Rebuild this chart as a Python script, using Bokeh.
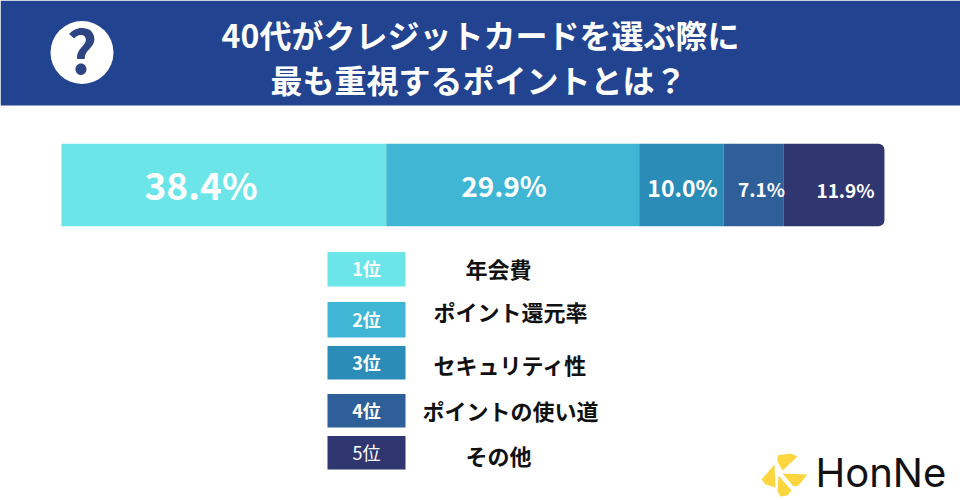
from bokeh.plotting import figure
from bokeh.models import Range1d
from bokeh.core.properties import value
from bokeh.embed import file_html
from bokeh.resources import INLINE

title_lines = ["40代がクレジットカードを選ぶ際に", "最も重視するポイントとは？"]
ranks = ["1位", "2位", "3位", "4位", "5位"]
categories = ["年会費", "ポイント還元率", "セキュリティ性", "ポイントの使い道", "その他"]
shares = [38.4, 29.9, 10.0, 7.1, 11.9]
colors = ["#6ce5e9", "#3fb6d4", "#2b8cb8", "#2f5f98", "#30366f"]
brand = "HonNe"

CJK = value("Noto Sans CJK JP")
PX_PER_PCT = 8.458
BAR_LEFT = 61

p = figure(width=960, height=500, toolbar_location=None, output_backend="svg",
           x_range=Range1d(-BAR_LEFT / PX_PER_PCT, (960 - BAR_LEFT) / PX_PER_PCT),
           y_range=Range1d(500, 0), min_border=0, outline_line_color=None)
p.axis.visible = False
p.grid.visible = False
p.extra_x_ranges = {"px": Range1d(0, 960)}
PX = dict(x_range_name="px")

# header
p.quad(left=0, right=960, top=0, bottom=105, fill_color="#224390", line_color=None, **PX)
p.circle(x=81.5, y=52, radius=31.5, fill_color="white", line_color=None, **PX)
p.text(x=[81.5], y=[47], text=["?"], text_font=CJK, text_font_style="bold", text_font_size="60px",
       text_color="#2d4683", text_align="center", text_baseline="middle", **PX)
p.text(x=[480, 478], y=[33, 78.5], text=title_lines, text_font=CJK, text_font_style="bold",
       text_font_size="32px", text_color="white", text_align="center", text_baseline="middle", **PX)

# stacked bar
left = 0.0
lefts = []
for s in shares:
    lefts.append(left)
    left += s
rights = [l + s for l, s in zip(lefts, shares)]
for i in range(len(shares)):
    radius = (0, 6, 6, 0) if i == len(shares) - 1 else 0
    p.hbar(y=[184.5], height=82.5, left=[lefts[i]], right=[rights[i]], fill_color=colors[i],
           line_color=None, border_radius=radius)

label_x = [200.5, 503.5, 682, 761, 845]
label_y = [183.5, 184.5, 186, 187.5, 189]
label_size = [37, 28, 23, 19, 19]
for i, s in enumerate(shares):
    p.text(x=[label_x[i]], y=[label_y[i]], text=[f"{s:.1f}%"], text_font=CJK, text_font_style="bold",
           text_font_size=f"{label_size[i]}px", text_color="white", text_align="center",
           text_baseline="middle", **PX)

# legend
sw_top = [251.5, 301.5, 345.5, 393.5, 435.5]
sw_bot = [286, 337, 379, 427, 469]
text_x = [498, 510, 510, 510, 498]
text_y = [267, 310, 363, 409, 454]
for i in range(5):
    p.quad(left=327, right=405, top=sw_top[i], bottom=sw_bot[i], fill_color=colors[i], line_color=None, **PX)
    p.text(x=[366], y=[(sw_top[i] + sw_bot[i]) / 2 - 1], text=[ranks[i]], text_font=CJK,
           text_font_size="18px", text_color="white", text_align="center", text_baseline="middle",
           text_font_style="bold" if i < 4 else "normal", **PX)
    p.text(x=[text_x[i]], y=[text_y[i]], text=[categories[i]], text_font=CJK, text_font_style="bold",
           text_font_size="22px", text_color="#111111", text_align="center", text_baseline="middle", **PX)

# brand logo
wedges_x = [[777, 790, 797, 782, 777], [774, 775, 765, 761], [782, 807, 798, 793], [778, 791, 787, 780, 777]]
wedges_y = [[455, 453, 456, 470, 461], [464, 487, 484, 479], [473, 474, 485, 486], [475, 490, 495, 496, 491]]
for wx, wy in zip(wedges_x, wedges_y):
    p.patch(x=wx, y=wy, fill_color="#fbd63f", line_color=None, **PX)
p.text(x=[815], y=[472], text=[brand], text_font=value("Inter"), text_font_style="normal",
       text_font_size="40px", text_color="#111111", text_align="left", text_baseline="middle", **PX)

open("out.html", "w").write(file_html(p, INLINE))
